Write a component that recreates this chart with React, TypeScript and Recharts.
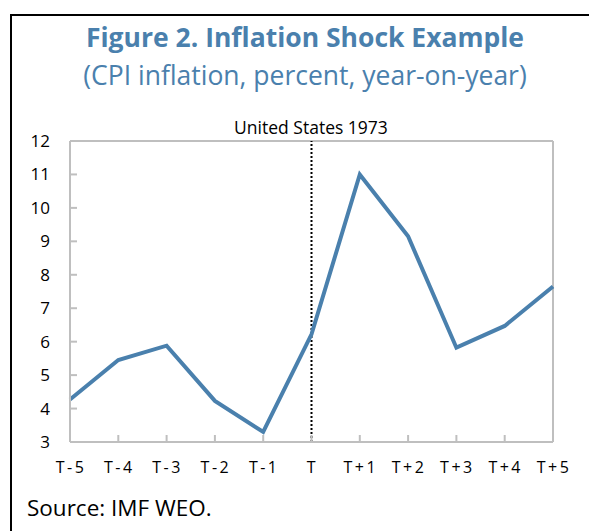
import React from 'react';
import { LineChart, Line, XAxis, YAxis, ReferenceLine } from 'recharts';

const periods = ['T-5', 'T-4', 'T-3', 'T-2', 'T-1', 'T', 'T+1', 'T+2', 'T+3', 'T+4', 'T+5'];
const cpiInflation = [4.27, 5.45, 5.88, 4.23, 3.3, 6.22, 11.0, 9.15, 5.82, 6.47, 7.65];
const yTicks = [3, 4, 5, 6, 7, 8, 9, 10, 11, 12];

const data = periods.map((p, i) => ({ period: p, cpi: cpiInflation[i] }));

const FONT = '"Open Sans", "Noto Sans", sans-serif';
const BLUE = '#4a80ad';
const AXIS = '#bfbfbf';

const XTick = (props: any) => {
    const { x, y, payload } = props;
    return (
        <g>
            <line x1={x} y1={y} x2={x} y2={y - 7} stroke={AXIS} strokeWidth={2} />
            <text x={x + 1} y={y + 31} textAnchor="middle" fontSize={16} letterSpacing={2.5} fill="#000" fontFamily={FONT}>
                {payload.value}
            </text>
        </g>
    );
};

const YTick = (props: any) => {
    const { x, y, payload } = props;
    return (
        <g>
            <line x1={x} y1={y} x2={x + 7} y2={y} stroke={AXIS} strokeWidth={2} />
            <text x={x - 20} y={y + 6} textAnchor="end" fontSize={17} fill="#000" fontFamily={FONT}>
                {payload.value}
            </text>
        </g>
    );
};

export default function App() {
    return (
        <div style={{ position: 'absolute', left: 0, top: 0, width: 589, height: 531, overflow: 'hidden', background: '#fff', fontFamily: FONT }}>
            <div style={{ position: 'absolute', left: 10, top: 14, width: 700, height: 700, borderTop: '2px solid #000', borderLeft: '2px solid #000' }} />
            <div style={{ position: 'absolute', left: 0, top: 19, width: 610, textAlign: 'center', color: BLUE, fontWeight: 700, fontSize: 26.5, lineHeight: '36px' }}>
                Figure 2. Inflation Shock Example
            </div>
            <div style={{ position: 'absolute', left: 0, top: 57, width: 610, textAlign: 'center', color: BLUE, fontSize: 26.5, lineHeight: '36px' }}>
                (CPI inflation, percent, year-on-year)
            </div>
            <div style={{ position: 'absolute', left: 0, top: 115, width: 622, textAlign: 'center', color: '#000', fontSize: 17.5, lineHeight: '24px' }}>
                United States 1973
            </div>
            <div style={{ position: 'absolute', left: 27, top: 492, color: '#000', fontSize: 22.5, lineHeight: '32px' }}>
                Source: IMF WEO.
            </div>
            <div style={{ position: 'absolute', left: 0, top: 0 }}>
                <LineChart width={570} height={531} data={data} margin={{ top: 141, right: 17, bottom: 59, left: 20 }}>
                    <XAxis
                        dataKey="period"
                        interval={0}
                        stroke={AXIS}
                        strokeWidth={2}
                        tickLine={false}
                        tickSize={0}
                        tickMargin={0}
                        height={30}
                        tick={<XTick />}
                    />
                    <YAxis
                        domain={[3, 12]}
                        ticks={yTicks}
                        interval={0}
                        stroke={AXIS}
                        strokeWidth={2}
                        tickLine={false}
                        tickSize={0}
                        tickMargin={0}
                        width={50}
                        tick={<YTick />}
                    />
                    <ReferenceLine y={12} stroke={AXIS} strokeWidth={2} />
                    <ReferenceLine x="T+5" stroke={AXIS} strokeWidth={2} />
                    <ReferenceLine x="T" stroke="#000" strokeWidth={2} strokeDasharray="2 2" />
                    <Line
                        type="linear"
                        dataKey="cpi"
                        stroke={BLUE}
                        strokeWidth={4}
                        dot={false}
                        isAnimationActive={false}
                    />
                </LineChart>
            </div>
        </div>
    );
}
